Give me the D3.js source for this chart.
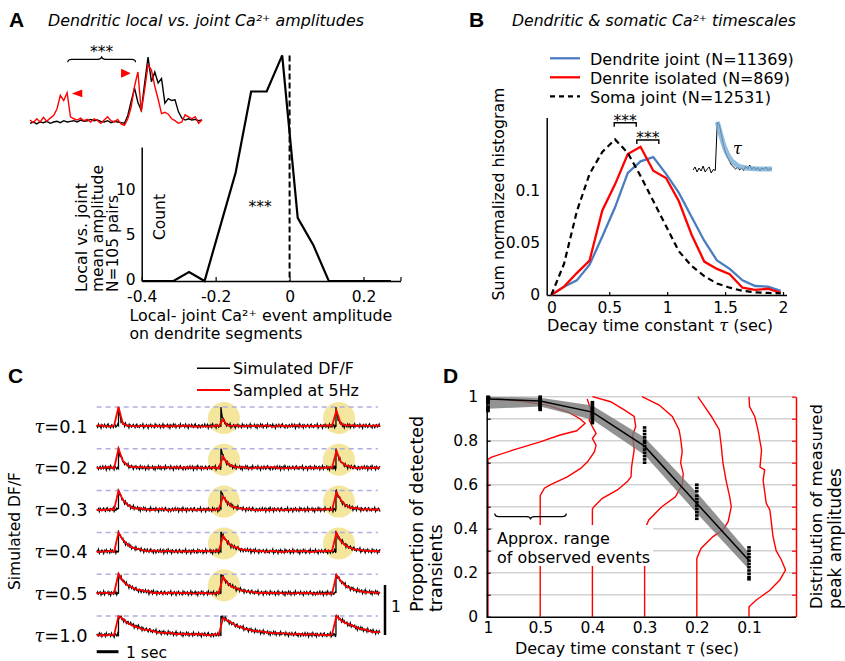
<!DOCTYPE html>
<html>
<head>
<meta charset="utf-8">
<script src="https://cdn.jsdelivr.net/npm/d3@7"></script>
<style>body{margin:0;background:#fff}</style>
</head>
<body>
<script>
const FONT = 'DejaVu Sans'

// ---- Panel A: local - joint amplitude histogram
const histBins = [-0.398, -0.356, -0.314, -0.272, -0.23, -0.188, -0.146, -0.104, -0.062, -0.02, 0.022, 0.064, 0.106, 0.148, 0.19, 0.232, 0.274]
const histCounts = [0, 0, 0, 1, 0, 6, 12, 21, 21, 25, 7, 4, 0, 0, 0, 0, 0]
const histXTicks = [-0.4, -0.2, 0, 0.2, 0.3]
const histYTicks = [0, 5, 10]
// example trace (inset), joint (black) vs isolated (red)
const insetBlack = [-0.02, 0.0, -0.03, 0.0, -0.01, 0.01, -0.02, 0.0, 0.01, -0.01, 0.02, 0.0, 0.01, 0.02, 0.0, 0.03, 0.01, 0.02, 0.04, 0.02, 0.03, 0.01, 0.0, 0.02, -0.01, 0.01, 0.0, -0.01, -0.02,
  0.1, 0.32, 0.52, 0.3, 0.18, 0.6, 1.0, 0.62, 0.77, 0.6, 0.67, 0.29, 0.36, 0.33, 0.34, 0.16, 0.06, 0.03, 0.05, 0.03, 0.04, 0.02, 0.03]
const insetRed = [0.03, -0.01, 0.05, 0.0, 0.07, 0.01, 0.06, 0.1, 0.2, 0.41, 0.33, 0.45, 0.08, 0.05, 0.03, 0.06, 0.02, 0.04, 0.0, 0.05, 0.02, -0.02, 0.03, 0.08, 0.02, 0.0, 0.04, -0.03, -0.05,
  0.05, 0.23, 0.55, 0.77, 0.16, 0.5, 0.88, 0.8, 0.55, 0.35, 0.13, 0.15, 0.12, 0.05, 0.02, -0.02, 0.0, 0.11, 0.08, 0.05, 0.08, -0.02, 0.03]

// ---- Panel B: decay time constant histograms
const tauBins = [0, 0.11, 0.22, 0.33, 0.44, 0.55, 0.66, 0.77, 0.88, 0.99, 1.1, 1.21, 1.32, 1.43, 1.54, 1.65, 1.76, 1.87, 1.98]
const dendriteJoint = [0, 0.008, 0.014, 0.029, 0.056, 0.084, 0.117, 0.128, 0.132, 0.116, 0.098, 0.075, 0.052, 0.033, 0.025, 0.014, 0.0086, 0.008, 0.004]
const dendriteIsolated = [0, 0.008, 0.021, 0.033, 0.081, 0.106, 0.135, 0.142, 0.119, 0.112, 0.09, 0.058, 0.032, 0.025, 0.02, 0.007, 0.005, 0.006, 0.002]
const somaJoint = [0, 0.03, 0.08, 0.116, 0.137, 0.149, 0.136, 0.114, 0.09, 0.066, 0.042, 0.028, 0.018, 0.011, 0.007, 0.004, 0.0025, 0.002, 0.0015]
const tauXTicks = [0, 0.5, 1, 1.5, 2]
const tauYTicks = [0, 0.05, 0.1]
const legendB = ['Dendrite joint (N=11369)', 'Denrite isolated (N=869)', 'Soma joint (N=12531)']
// small example trace with exponential fit
const fitTrace = [0.04, 0.1, 0.0, 0.08, 0.02, 0.12, 0.0, 0.06, 0.1, -0.02, 0.05, 0.03, 1.0, 0.95, 0.75, 0.55, 0.4, 0.3, 0.22, 0.14, 0.1, 0.06, 0.1, 0.04,
  0.08, 0.03, 0.12, 0.06, 0.14, 0.05, 0.1, 0.04, 0.09, 0.02, 0.08, 0.05, 0.1, 0.03, 0.07, 0.05]
const fitCurve = [1.0, 0.85, 0.7, 0.56, 0.45, 0.36, 0.29, 0.23, 0.19, 0.16, 0.13, 0.11, 0.1, 0.09, 0.08, 0.075, 0.07, 0.07, 0.065, 0.065, 0.06, 0.06, 0.06, 0.06, 0.06, 0.06, 0.06, 0.06]

// ---- Panel C: simulated traces
const simTaus = [0.1, 0.2, 0.3, 0.4, 0.5, 1.0]
const simTauLabels = ['0.1', '0.2', '0.3', '0.4', '0.5', '1.0']
const eventTimes = [1.0, 5.7, 10.98]
const eventAmp = 0.38
const highlighted = [[1, 2], [1, 2], [1, 2], [1, 2], [1], []]
const noise = [0.3, -0.5, 0.8, -0.2, 0.1, -0.9, 0.6, 0.2, -0.4, 0.7, -0.1, -0.6, 0.4, 0.9, -0.3, 0.0, -0.8, 0.5, 0.3, -0.7, 0.2, 0.6, -0.5, -0.1, 0.8, -0.4, 0.1, 0.7, -0.9, 0.3,
  -0.2, 0.5, -0.6, 0.9, 0.0, -0.3, 0.4, -0.8, 0.6, 0.1, -0.5, 0.2, 0.7, -0.1, -0.7, 0.4, 0.8, -0.4, 0.0, -0.6, 0.5, 0.3, -0.2, 0.9, -0.8, 0.1, -0.3, 0.6, 0.2, -0.9,
  0.4, -0.1, 0.7, -0.5, 0.3, 0.0, -0.7, 0.8, -0.2, 0.5, -0.4, 0.1, 0.6, -0.8, 0.2, -0.3, 0.9, -0.6, 0.4, 0.0, -0.1, 0.7, -0.5, 0.3, -0.9, 0.5, 0.1, -0.4, 0.8, -0.2,
  0.6, -0.7, 0.2, -0.1, 0.4, -0.6, 0.9, -0.3, 0.0, 0.5]

// ---- Panel D: detection proportion vs tau
const detectTauLabels = ['1', '0.5', '0.4', '0.3', '0.2', '0.1']
const detectMean = [0.99, 0.98, 0.93, 0.775, 0.515, 0.255]
const detectHi = [1.0, 0.995, 0.96, 0.815, 0.565, 0.29]
const detectLo = [0.945, 0.955, 0.895, 0.735, 0.47, 0.215]
const detectRuns = [
  [1.0, 0.995, 0.99, 0.985, 0.98, 0.975, 0.97, 0.955, 0.948, 0.94, 0.935],
  [1.0, 0.995, 0.99, 0.985, 0.98, 0.975, 0.97, 0.965, 0.96, 0.955, 0.95, 0.945, 0.94],
  [0.975, 0.965, 0.955, 0.945, 0.94, 0.93, 0.92, 0.91, 0.9, 0.89, 0.88],
  [0.86, 0.845, 0.83, 0.815, 0.8, 0.79, 0.775, 0.76, 0.745, 0.73, 0.715, 0.7],
  [0.6, 0.585, 0.57, 0.55, 0.535, 0.52, 0.505, 0.49, 0.475, 0.46, 0.445],
  [0.315, 0.3, 0.285, 0.27, 0.255, 0.24, 0.225, 0.21, 0.195, 0.18, 0.17]
]
// peak amplitude distributions: [offset from tick, proportion]
const peakDists = [
  [[0, 0], [0, 0.715], [0.07, 0.725], [0.49, 0.758], [1.0, 0.795], [1.38, 0.826], [1.7, 0.845], [1.86, 0.879], [1.76, 0.9], [1.54, 0.93], [1.13, 0.962], [0.61, 0.98], [0.17, 0.99]],
  [[0, 0], [0, 0.55], [0.08, 0.584], [0.2, 0.6], [0.52, 0.636], [0.78, 0.675], [0.91, 0.705], [1.04, 0.75], [1.07, 0.78], [1.0, 0.81], [1.07, 0.833], [1.0, 0.864], [0.94, 0.894], [0.97, 0.94], [0.9, 0.99]],
  [[0, 0], [0, 0.49], [0.03, 0.5], [0.19, 0.538], [0.48, 0.576], [0.67, 0.614], [0.74, 0.636], [0.75, 0.68], [0.8, 0.758], [0.77, 0.826], [0.83, 0.864], [0.8, 0.91], [0.61, 0.94], [0.35, 0.977], [0, 1.0]],
  [[0, 0], [0, 0.394], [0.08, 0.44], [0.33, 0.5], [0.59, 0.545], [0.72, 0.6], [0.74, 0.65], [0.69, 0.7], [0.72, 0.75], [0.69, 0.81], [0.66, 0.85], [0.53, 0.91], [0.28, 0.962], [-0.05, 1.0]],
  [[0, 0], [0, 0.265], [0.08, 0.31], [0.31, 0.364], [0.5, 0.394], [0.6, 0.432], [0.66, 0.5], [0.63, 0.545], [0.56, 0.62], [0.5, 0.7], [0.47, 0.773], [0.43, 0.85], [0.28, 0.91], [0.15, 0.955], [0.02, 1.0]],
  [[0, 0], [0, 0.045], [0.14, 0.076], [0.4, 0.12], [0.59, 0.167], [0.7, 0.212], [0.62, 0.258], [0.52, 0.3], [0.46, 0.364], [0.43, 0.424], [0.4, 0.485], [0.33, 0.515], [0.27, 0.62], [0.3, 0.667], [0.21, 0.68], [0.24, 0.758], [0.17, 0.85], [0.11, 0.91], [0.01, 0.955], [0, 1.0]]
]
const gridLevels = [0.1, 0.2, 0.3, 0.4, 0.5, 0.6, 0.7, 0.8, 0.9, 1.0]

const svg = d3.select('body').append('svg')
  .attr('width', 845).attr('height', 661)
  .style('font-family', FONT)

// opts.w: width the text takes in the reference, font size is scaled to fit it
function text(g, x, y, str, size, opts = {}) {
  const t = g.append('text').attr('x', x).attr('y', y)
    .attr('font-size', size).attr('fill', '#000').text(str)
  if (opts.anchor) t.attr('text-anchor', opts.anchor)
  if (opts.italic) t.attr('font-style', 'italic')
  if (opts.bold) t.attr('font-weight', 'bold')
  if (opts.family) t.attr('font-family', opts.family)
  if (opts.rotate) t.attr('transform', `rotate(-90 ${x} ${y})`).attr('dominant-baseline', 'central')
  if (opts.w) fitWidth(t, opts.w)
  return t
}

function fitWidth(t, w) {
  const len = t.node().getComputedTextLength()
  if (len > 0) t.attr('font-size', (+t.attr('font-size') * (w + 1) / len).toFixed(2))
}

function styleAxis(g, size, color = '#000') {
  g.attr('font-family', null).attr('font-size', null)
  g.selectAll('text').attr('font-size', size).attr('font-family', FONT).attr('fill', '#000')
  g.select('.domain').attr('stroke', color).attr('stroke-width', 1.5)
  g.selectAll('.tick line').attr('stroke', color).attr('stroke-width', 1.2)
}

function panelLetter(x, y, l) {
  text(svg, x, y, l, 21, {bold: true, family: 'Liberation Sans'})
}

function tauLabel(g, x, y, before, after, size, w) {
  const t = text(g, x, y, before, size, {anchor: 'middle'})
  t.append('tspan').attr('font-style', 'italic').attr('font-family', 'DejaVu Serif').text('τ')
  t.append('tspan').text(after)
  if (w) fitWidth(t, w)
  return t
}

// ================= A =================
panelLetter(9, 27, 'A')
text(svg, 48, 25.5, 'Dendritic local vs. joint Ca²⁺ amplitudes', 15.8, {italic: true, w: 315})

const xA = d3.scaleLinear().domain([-0.4, 0.3]).range([141.7, 400.5])
const yA = d3.scaleLinear().domain([0, 14.85]).range([281, 147])

const axAx = svg.append('g').attr('transform', `translate(0,${yA(0)})`)
  .call(d3.axisBottom(xA).tickValues(histXTicks).tickSizeInner(-4).tickSizeOuter(0).tickPadding(10)
    .tickFormat(d => d === 0.3 ? '' : String(d)))
styleAxis(axAx, 15.5)
const ayAx = svg.append('g').attr('transform', `translate(${xA(-0.4)},0)`)
  .call(d3.axisLeft(yA).tickValues(histYTicks).tickSize(0).tickPadding(6))
styleAxis(ayAx, 15.5)
ayAx.selectAll('text').attr('dy', '0.22em')

svg.append('line')
  .attr('x1', xA(0)).attr('x2', xA(0)).attr('y1', yA(25)).attr('y2', yA(0))
  .attr('stroke', '#000').attr('stroke-width', 2).attr('stroke-dasharray', '6,3')

svg.append('path')
  .datum(histBins.map((b, i) => [b, histCounts[i]]))
  .attr('fill', 'none').attr('stroke', '#000').attr('stroke-width', 2.2)
  .attr('d', d3.line().x(d => xA(d[0])).y(d => yA(d[1])))

text(svg, 260, 211.5, '***', 15.5, {anchor: 'middle'})
text(svg, 160, 217, 'Count', 16, {anchor: 'middle', rotate: true, w: 45})
text(svg, 81, 292, 'Local vs. joint', 16, {rotate: true, w: 108})
text(svg, 97.5, 292, 'mean amplitude', 16, {rotate: true, w: 126})
text(svg, 113, 292, 'N=105 pairs', 16, {rotate: true, w: 96})
text(svg, 129.5, 320.5, 'Local- joint Ca²⁺ event amplitude', 16, {w: 262})
text(svg, 129.5, 339.2, 'on dendrite segments', 16, {w: 172})

// inset example
const xIn = d3.scaleLinear().domain([0, insetBlack.length - 1]).range([30, 202])
const yIn = d3.scaleLinear().domain([0, 1]).range([122, 57])
const lineIn = d3.line().x((d, i) => xIn(i)).y(d => yIn(d))
svg.append('path').datum(insetBlack).attr('fill', 'none').attr('stroke', '#000').attr('stroke-width', 1.4).attr('d', lineIn)
svg.append('path').datum(insetRed).attr('fill', 'none').attr('stroke', '#ff0000').attr('stroke-width', 1.4).attr('d', lineIn)
// arrowheads
svg.append('path').attr('fill', '#ff0000')
  .attr('d', `M${xIn(12.4)},${yIn(0.44)} L${xIn(15.5)},${yIn(0.5)} L${xIn(15.5)},${yIn(0.38)} Z`)
svg.append('path').attr('fill', '#ff0000')
  .attr('d', `M${xIn(29.9)},${yIn(0.75)} L${xIn(27)},${yIn(0.82)} L${xIn(27)},${yIn(0.68)} Z`)
// brace with stars
{
  const x0 = xIn(11.2), x1 = xIn(31.3), xm = (x0 + x1) / 2, yb = 59.3
  svg.append('path').attr('fill', 'none').attr('stroke', '#000').attr('stroke-width', 1.2)
    .attr('d', `M${x0},${yb + 3} Q${x0},${yb} ${x0 + 4},${yb} L${xm - 4},${yb} Q${xm},${yb} ${xm},${yb - 3} Q${xm},${yb} ${xm + 4},${yb} L${x1 - 4},${yb} Q${x1},${yb} ${x1},${yb + 3}`)
  text(svg, xm, 56.5, '***', 15.5, {anchor: 'middle'})
}

// ================= B =================
panelLetter(469, 27, 'B')
text(svg, 512, 25.5, 'Dendritic & somatic Ca²⁺ timescales', 15.8, {italic: true, w: 283})

const xB = d3.scaleLinear().domain([-0.04, 2.03]).range([546.7, 786.5])
const yB = d3.scaleLinear().domain([0, 0.17]).range([295, 117.5])

const bxAx = svg.append('g').attr('transform', `translate(0,${yB(0)})`)
  .call(d3.axisBottom(xB).tickValues(tauXTicks).tickSizeInner(-3).tickSizeOuter(0).tickPadding(6.5).tickFormat(d => String(d)))
styleAxis(bxAx, 15.5)
const byAx = svg.append('g').attr('transform', `translate(${xB(-0.04)},0)`)
  .call(d3.axisLeft(yB).tickValues(tauYTicks).tickSize(0).tickPadding(6.5).tickFormat(d => String(d)))
styleAxis(byAx, 15.5)

const lineB = d3.line().x((d, i) => xB(tauBins[i])).y(d => yB(d))
svg.append('path').datum(dendriteJoint).attr('fill', 'none').attr('stroke', '#4a7dc0').attr('stroke-width', 2.3).attr('d', lineB)
svg.append('path').datum(dendriteIsolated).attr('fill', 'none').attr('stroke', '#ff0000').attr('stroke-width', 2.3).attr('d', lineB)
svg.append('path').datum(somaJoint).attr('fill', 'none').attr('stroke', '#000').attr('stroke-width', 2.2)
  .attr('stroke-dasharray', '6,4').attr('d', lineB)

// legend
const legColors = ['#4a7dc0', '#ff0000', '#000']
const legWidths = [203, 199, 180]
legendB.forEach((lab, i) => {
  const y = 58.3 + i * 19
  svg.append('line').attr('x1', 550).attr('x2', 580).attr('y1', y).attr('y2', y)
    .attr('stroke', legColors[i]).attr('stroke-width', 2.3)
    .attr('stroke-dasharray', i === 2 ? '5,4' : null)
  text(svg, 590, y + 6.3, lab, 17, {w: legWidths[i]})
})

// significance brackets
function bracketB(xa, xb, ytop) {
  const y = yB(ytop)
  svg.append('path').attr('fill', 'none').attr('stroke', '#000').attr('stroke-width', 1.4)
    .attr('d', `M${xB(xa)},${y + 4} L${xB(xa)},${y} L${xB(xb)},${y} L${xB(xb)},${y + 4}`)
  text(svg, (xB(xa) + xB(xb)) / 2, y + 3.5, '***', 15.5, {anchor: 'middle'})
}
bracketB(0.543, 0.733, 0.165)
bracketB(0.738, 0.928, 0.1485)

text(svg, 498, 194, 'Sum normalized histogram', 16, {anchor: 'middle', rotate: true, w: 212})
tauLabel(svg, 660, 330.5, 'Decay time constant ', ' (sec)', 16, 225)

// inset with fit
const xFit = d3.scaleLinear().domain([0, fitTrace.length - 1]).range([693, 772])
const yFit = d3.scaleLinear().domain([0, 1]).range([172, 122])
svg.append('path').datum(fitTrace).attr('fill', 'none').attr('stroke', '#000').attr('stroke-width', 1)
  .attr('d', d3.line().x((d, i) => xFit(i)).y(d => yFit(d)))
svg.append('path').datum(fitCurve).attr('fill', 'none').attr('stroke', '#78acd6').attr('stroke-width', 5)
  .attr('stroke-opacity', 0.8).attr('stroke-linejoin', 'round')
  .attr('d', d3.line().curve(d3.curveMonotoneX).x((d, i) => xFit(i + 12)).y(d => yFit(d)))
text(svg, 733, 154, 'τ', 16, {italic: true, family: 'DejaVu Serif'})

// ================= C =================
panelLetter(8, 383, 'C')

const xC = d3.scaleLinear().domain([0, 13]).range([96.7, 380])
const rowC = d3.scalePoint().domain(simTaus).range([426, 635])
const yC = d3.scaleLinear().domain([0, 1]).range([0, -50])

function model(tau, t) {
  let v = 0
  for (const te of eventTimes) if (t >= te - 1e-9) v += eventAmp * Math.exp(-(t - te) / tau)
  return v
}

simTaus.forEach((tau, r) => {
  const g = svg.append('g').attr('transform', `translate(0,${rowC(tau)})`)
  for (const e of highlighted[r]) {
    g.append('circle').attr('cx', xC(eventTimes[e]) + 3).attr('cy', yC(0.16)).attr('r', 16)
      .attr('fill', '#f4e69c')
  }
  g.append('line').attr('x1', xC(0)).attr('x2', xC(12.9)).attr('y1', yC(eventAmp)).attr('y2', yC(eventAmp))
    .attr('stroke', '#aeaee0').attr('stroke-width', 1.5).attr('stroke-dasharray', '5,4')

  // simulated DF/F at high rate
  const black = []
  for (let k = 0; k <= 325; k++) {
    const t = k * 0.04
    black.push([t, model(tau, t) + noise[(k + r * 17) % noise.length] * 0.045])
  }
  eventTimes.forEach((te, j) => {
    black.push([te - 1e-4, model(tau, te - 1e-4) + noise[(j * 11 + r) % noise.length] * 0.03])
    black.push([te, model(tau, te)])
  })
  black.sort((a, b) => a[0] - b[0])
  // sampled at 5 Hz
  const red = []
  for (let k = 0; k <= 65; k++) {
    const t = Math.round(k * 2) / 10
    red.push([t, model(tau, t) + noise[(k * 3 + r * 29 + 50) % noise.length] * 0.014])
  }
  const ln = d3.line().x(d => xC(d[0])).y(d => yC(d[1]))
  g.append('path').datum(black).attr('fill', 'none').attr('stroke', '#000').attr('stroke-width', 1.3).attr('d', ln)
  g.append('path').datum(red).attr('fill', 'none').attr('stroke', '#ff0000').attr('stroke-width', 1.8).attr('d', ln)

  tauLabel(g, 61, 6.5, '', '=' + simTauLabels[r], 17, 52)

  if (r === simTaus.length - 1) {
    g.append('line').attr('x1', 385).attr('x2', 385).attr('y1', yC(0)).attr('y2', yC(1))
      .attr('stroke', '#000').attr('stroke-width', 2.5)
    text(g, 391, yC(0.46), '1', 15.5)
  }
})

// time scale bar
svg.append('line').attr('x1', xC(0)).attr('x2', xC(1)).attr('y1', 651.7).attr('y2', 651.7)
  .attr('stroke', '#000').attr('stroke-width', 3)
text(svg, 126, 657.5, '1 sec', 16, {w: 40})
text(svg, 15, 531, 'Simulated DF/F', 16, {anchor: 'middle', rotate: true, w: 117})

// legend C
svg.append('line').attr('x1', 197).attr('x2', 230).attr('y1', 368.3).attr('y2', 368.3).attr('stroke', '#000').attr('stroke-width', 1.5)
text(svg, 233, 374, 'Simulated DF/F', 16, {w: 120})
svg.append('line').attr('x1', 197).attr('x2', 230).attr('y1', 390).attr('y2', 390).attr('stroke', '#ff0000').attr('stroke-width', 2)
text(svg, 233, 395.8, 'Sampled at 5Hz', 16, {w: 125})

// ================= D =================
panelLetter(443, 383, 'D')

const xD = d3.scaleLinear().domain([0, 5.9]).range([488, 796])
const yD = d3.scaleLinear().domain([0, 1]).range([616.7, 396.7])

svg.append('g').selectAll('line').data(gridLevels).enter().append('line')
  .attr('x1', xD(0)).attr('x2', xD(5.9)).attr('y1', d => yD(d)).attr('y2', d => yD(d))
  .attr('stroke', '#d2d2d2').attr('stroke-width', 1.5)

const distLine = d3.line().x(d => d[0]).y(d => d[1])
peakDists.forEach((pts, i) => {
  svg.append('path').attr('fill', 'none').attr('stroke', '#ff0000').attr('stroke-width', 1.4)
    .attr('d', distLine(pts.map(p => [xD(i + p[0]), yD(p[1])])))
})

// note with brace
svg.append('rect').attr('x', 493).attr('y', 525).attr('width', 160).attr('height', 41).attr('fill', '#fff')
text(svg, 497, 544, 'Approx. range', 16)
text(svg, 497, 562.5, 'of observed events', 16, {w: 152})
{
  const x0 = xD(0.13), x1 = xD(1.5), xm = (x0 + x1) / 2, yb = yD(0.455)
  svg.append('path').attr('fill', 'none').attr('stroke', '#000').attr('stroke-width', 1.3)
    .attr('d', `M${x0},${yb - 3} Q${x0},${yb} ${x0 + 4},${yb} L${xm - 4},${yb} Q${xm},${yb} ${xm},${yb + 3} Q${xm},${yb} ${xm + 4},${yb} L${x1 - 4},${yb} Q${x1},${yb} ${x1},${yb - 3}`)
}

svg.append('path').datum(detectMean.map((d, i) => i))
  .attr('fill', '#777').attr('fill-opacity', 0.8)
  .attr('d', d3.area().x(i => xD(i)).y0(i => yD(detectLo[i])).y1(i => yD(detectHi[i])))
svg.append('path').datum(detectMean)
  .attr('fill', 'none').attr('stroke', '#000').attr('stroke-width', 1.5)
  .attr('d', d3.line().x((d, i) => xD(i)).y(d => yD(d)))
detectRuns.forEach((vals, i) => {
  svg.append('g').selectAll('rect').data(vals).enter().append('rect')
    .attr('x', xD(i) - 1.8).attr('y', d => yD(d) - 1.3).attr('width', 3.6).attr('height', 2.6)
    .attr('fill', '#000')
})

const dyAx = svg.append('g').attr('transform', `translate(486.7,0)`)
  .call(d3.axisLeft(yD).tickValues([0].concat(gridLevels)).tickSizeInner(-4).tickSizeOuter(0).tickPadding(8.7)
    .tickFormat(d => Math.round(d * 10) % 2 === 0 ? String(Math.round(d * 10) / 10) : ''))
styleAxis(dyAx, 15.5)
const dyRight = svg.append('g').attr('transform', `translate(${xD(5.9)},0)`)
  .call(d3.axisRight(yD).tickValues([0].concat(gridLevels)).tickSizeInner(-4).tickSizeOuter(0).tickFormat(''))
styleAxis(dyRight, 15.5, '#ff0000')
const dxAx = svg.append('g').attr('transform', `translate(0,${yD(0)})`)
  .call(d3.axisBottom(xD).tickValues([0, 1, 2, 3, 4, 5]).tickSize(0).tickPadding(5).tickFormat(i => detectTauLabels[i]))
styleAxis(dxAx, 15.5)
dxAx.select('.domain').attr('d', `M${486.7},0.5H${xD(5.9)}`)

tauLabel(svg, 627, 654, 'Decay time constant ', ' (sec)', 16, 223)
text(svg, 417, 612, 'Proportion of detected', 17.5, {rotate: true})
text(svg, 436, 612, 'transients', 17.5, {rotate: true})
text(svg, 816, 609, 'Distribution of measured', 16, {rotate: true, w: 204})
text(svg, 835, 609, 'peak amplitudes', 16, {rotate: true, w: 140})
</script>
</body>
</html>
